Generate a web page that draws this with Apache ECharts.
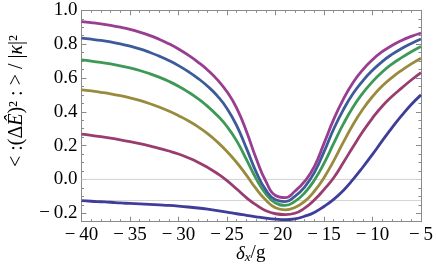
<!DOCTYPE html>
<html>
<head>
<meta charset="utf-8">
<script src="https://cdn.jsdelivr.net/npm/echarts@6/dist/echarts.min.js"></script>
<style>
html,body{margin:0;padding:0;background:#fff;}
#c{width:436px;height:279px;}
</style>
</head>
<body>
<div id="c"></div>
<script>
const xs = [-40,-39,-38,-37,-36,-35,-34,-33,-32,-31,-30,-29,-28,-27,-26,-25,-24,-23,-22,-21,-20,-19,-18,-17,-16,-15,-14,-13,-12,-11,-10,-9,-8,-7,-6,-5];
const curveIndigo = [-0.125,-0.129,-0.132,-0.135,-0.139,-0.142,-0.145,-0.148,-0.151,-0.154,-0.158,-0.163,-0.169,-0.176,-0.184,-0.193,-0.203,-0.212,-0.221,-0.229,-0.235,-0.238,-0.233,-0.218,-0.195,-0.16,-0.118,-0.065,0.0,0.072,0.148,0.228,0.305,0.377,0.443,0.5];
const curveMauve = [0.268,0.261,0.253,0.244,0.234,0.223,0.211,0.198,0.184,0.168,0.15,0.128,0.102,0.071,0.035,-0.007,-0.057,-0.108,-0.151,-0.185,-0.203,-0.208,-0.2,-0.17,-0.122,-0.06,0.01,0.1,0.193,0.283,0.363,0.433,0.49,0.54,0.588,0.632];
const curveOlive = [0.529,0.523,0.515,0.506,0.495,0.482,0.467,0.449,0.428,0.404,0.377,0.347,0.312,0.271,0.222,0.165,0.1,0.025,-0.055,-0.122,-0.168,-0.18,-0.166,-0.13,-0.07,0.01,0.11,0.22,0.325,0.415,0.49,0.552,0.602,0.645,0.683,0.717];
const curveGreen = [0.707,0.7,0.692,0.683,0.672,0.659,0.644,0.626,0.605,0.58,0.551,0.517,0.478,0.432,0.378,0.313,0.228,0.118,0.005,-0.085,-0.14,-0.153,-0.13,-0.08,-0.005,0.095,0.213,0.328,0.428,0.51,0.578,0.635,0.682,0.72,0.755,0.786];
const curveBlue = [0.835,0.829,0.822,0.813,0.802,0.788,0.772,0.752,0.729,0.703,0.673,0.638,0.598,0.551,0.494,0.42,0.318,0.185,0.045,-0.062,-0.12,-0.131,-0.1,-0.045,0.04,0.163,0.298,0.413,0.508,0.583,0.645,0.697,0.739,0.774,0.804,0.83];
const curvePurple = [0.933,0.927,0.92,0.911,0.9,0.887,0.871,0.852,0.829,0.802,0.771,0.735,0.694,0.647,0.59,0.518,0.422,0.285,0.125,-0.01,-0.095,-0.108,-0.07,-0.012,0.075,0.213,0.355,0.475,0.573,0.648,0.708,0.755,0.792,0.822,0.846,0.866];
const refLines = [0, -0.125];
const xTicks = [-40, -35, -30, -25, -20, -15, -10, -5];
const yTicks = [-0.2, 0, 0.2, 0.4, 0.6, 0.8, 1.0];

const curves = [
  {data: curveIndigo, color: '#3F3D99'},
  {data: curveMauve, color: '#993D71'},
  {data: curveOlive, color: '#998B3D'},
  {data: curveGreen, color: '#3D9956'},
  {data: curveBlue, color: '#3D5A99'},
  {data: curvePurple, color: '#993D90'}
];

const FONT = 'Liberation Serif';
const frameColor = '#8a8a8a';
const minus = v => (v < 0 ? '\u2212\u2009' : '') + Math.abs(v);
const fmtY = v => (v < 0 ? '\u2212\u2009' : '') + Math.abs(v).toFixed(1);

const chart = echarts.init(document.getElementById('c'), null, {renderer: 'canvas'});

const series = [];
refLines.forEach(r => {
  series.push({
    type: 'line', silent: true, symbol: 'none', z: 1,
    data: [[xs[0], r], [xs[xs.length - 1], r]],
    lineStyle: {color: '#d2d2d2', width: 1}
  });
});
curves.forEach(c => {
  series.push({
    type: 'line', symbol: 'none', smooth: 0.5, z: 3,
    data: xs.map((x, i) => [x, c.data[i]]),
    lineStyle: {color: c.color, width: 2.8}
  });
});

const xBase = {
  type: 'value', min: -40, max: -5, interval: 5,
  axisLine: {show: true, onZero: false, lineStyle: {color: frameColor, width: 1}},
  axisTick: {show: true, inside: true, length: 5, lineStyle: {color: frameColor}},
  minorTick: {show: true, splitNumber: 5, length: 2.5, lineStyle: {color: frameColor}},
  splitLine: {show: false}
};
const yMinorBase = {
  type: 'value', min: -0.25, max: 1.0, interval: 0.05,
  axisLine: {show: false},
  axisTick: {show: true, inside: true, length: 2.5, lineStyle: {color: frameColor}},
  axisLabel: {show: false},
  splitLine: {show: false}
};

chart.setOption({
  animation: false,
  grid: {left: 81.5, right: 12.7, top: 10.3, bottom: 57.3, containLabel: false},
  xAxis: [
    Object.assign({}, xBase, {
      position: 'bottom',
      axisLabel: {show: true, margin: 4, color: '#000', fontFamily: FONT, fontSize: 19,
        formatter: v => minus(v), customValues: xTicks}
    }),
    Object.assign({}, xBase, {position: 'top', axisLabel: {show: false}})
  ],
  yAxis: [
    {
      type: 'value', min: -0.25, max: 1.0, position: 'left',
      axisLine: {show: true, onZero: false, lineStyle: {color: frameColor, width: 1}},
      axisTick: {show: true, inside: true, length: 5, customValues: yTicks, lineStyle: {color: frameColor}},
      axisLabel: {show: true, margin: 4, color: '#000', fontFamily: FONT, fontSize: 19,
        customValues: yTicks, formatter: v => fmtY(v)},
      splitLine: {show: false}
    },
    {
      type: 'value', min: -0.25, max: 1.0, position: 'right',
      axisLine: {show: true, onZero: false, lineStyle: {color: frameColor, width: 1}},
      axisTick: {show: true, inside: true, length: 5, customValues: yTicks, lineStyle: {color: frameColor}},
      axisLabel: {show: false},
      splitLine: {show: false}
    },
    Object.assign({}, yMinorBase, {position: 'left'}),
    Object.assign({}, yMinorBase, {position: 'right'})
  ],
  series: series,
  graphic: [
    {
      type: 'text', left: 236, top: 244,
      style: {
        text: '{d|δ}{s|x}{n|/g}',
        rich: {
          d: {fontFamily: FONT, fontSize: 19, fontStyle: 'italic', fill: '#000'},
          s: {fontFamily: FONT, fontSize: 13, fontStyle: 'italic', fill: '#000', padding: [9, 0, 0, 0]},
          n: {fontFamily: FONT, fontSize: 19, fill: '#000'}
        }
      }
    },
    {
      type: 'text', x: 17, y: 101, rotation: Math.PI / 2,
      style: {
        text: '{n|< :(Δ}{i|Ê}{n|)² : > / |}{i|κ}{n||²}',
        align: 'center', verticalAlign: 'middle',
        rich: {
          n: {fontFamily: FONT, fontSize: 20, fill: '#000'},
          i: {fontFamily: FONT, fontSize: 20, fontStyle: 'italic', fill: '#000'}
        }
      }
    }
  ]
});
</script>
</body>
</html>
